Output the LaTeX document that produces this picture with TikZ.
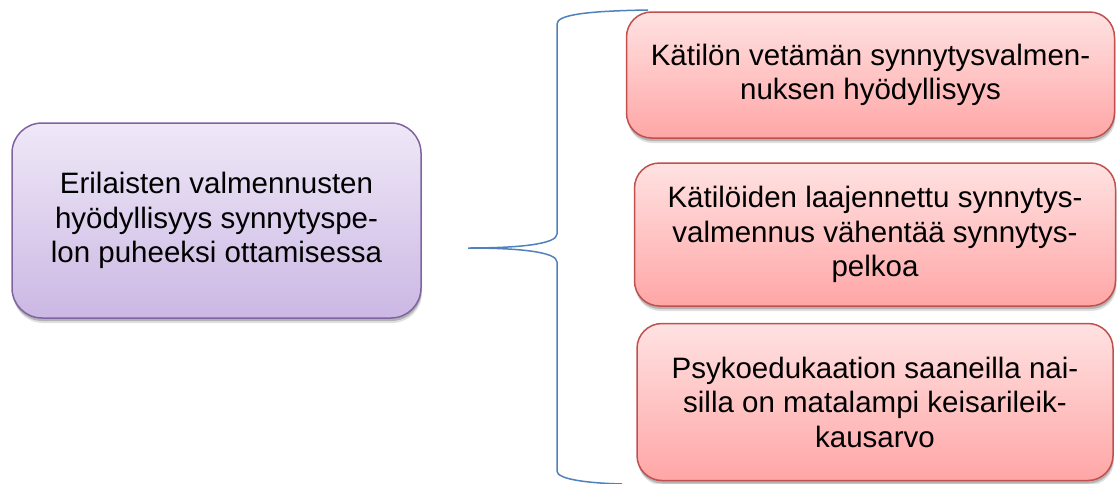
\documentclass[tikz,border=0pt]{standalone}
\usepackage{fontspec}
\setmainfont{Liberation Sans}
\usetikzlibrary{shadows}
\definecolor{purpleborder}{HTML}{8064A2}
\definecolor{purpletop}{HTML}{EFE8F7}
\definecolor{purplebot}{HTML}{CBB8E4}
\definecolor{redborder}{HTML}{C0504D}
\definecolor{redtop}{HTML}{FFE2E2}
\definecolor{redbot}{HTML}{FFA6A6}
\definecolor{braceblue}{HTML}{4F81BD}
\tikzset{
  boxtext/.style={font=\fontsize{29.5}{34.5}\selectfont, align=center, inner sep=0pt, text=black},
  softshadow/.style={drop shadow={shadow xshift=1pt, shadow yshift=-5pt, opacity=0.12, fill=black},
    drop shadow={shadow xshift=0.5pt, shadow yshift=-3pt, opacity=0.2, fill=black}},
  purplebox/.style={boxtext, draw=purpleborder, line width=1.5pt, rounded corners=30pt,
    top color=purpletop, bottom color=purplebot, softshadow},
  redbox/.style={boxtext, draw=redborder, line width=1.5pt, rounded corners=25pt,
    top color=redtop, bottom color=redbot, softshadow},
  bracestyle/.style={draw=braceblue, line width=1.5pt}
}
\begin{document}
\begin{tikzpicture}[x=1pt,y=-1pt]
\useasboundingbox (0,0) rectangle (1117,483);
\node[purplebox, minimum width=409pt, minimum height=195pt] (main) at (216.5,220.5)
  {Erilaisten valmennusten\\hyödyllisyys synnytyspe-\\lon puheeksi ottamisessa};
\node[redbox, minimum width=488pt, minimum height=126pt] (r1) at (870.5,75)
  {Kätilön vetämän synnytysvalmen-\\nuksen hyödyllisyys};
\node[redbox, minimum width=481pt, minimum height=143pt] (r2) at (875,234.5)
  {Kätilöiden laajennettu synnytys-\\valmennus vähentää synnytys-\\pelkoa};
\node[redbox, minimum width=476pt, minimum height=157pt] (r3) at (875,402)
  {Psykoedukaation saaneilla nai-\\silla on matalampi keisarileik-\\kausarvo};
\coordinate (tip) at (468,248);
\coordinate (btop) at (648,10);
\coordinate (bbot) at (622,484);
\draw[bracestyle] (btop) .. controls (585,11) and (557,15) .. (557,24)
  -- (557,234) .. controls (557,244) and (520,248) .. (tip)
  .. controls (520,248) and (557,252) .. (557,262)
  -- (557,471) .. controls (557,479) and (585,483) .. (bbot);
\end{tikzpicture}
\end{document}
